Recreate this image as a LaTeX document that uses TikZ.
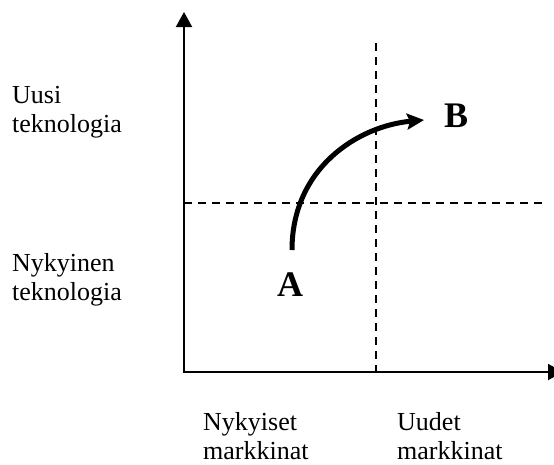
\documentclass[tikz,border=0pt]{standalone}
\usepackage{fontspec}
\setmainfont{Liberation Serif}
\usetikzlibrary{arrows.meta}
\begin{document}
\begin{tikzpicture}[x=1pt,y=-1pt,
  axis/.style={line width=2pt,-{Triangle[length=15pt,width=16pt]}},
  guide/.style={line width=1.5pt,dash pattern=on 7.5pt off 6.5pt},
  move/.style={line width=5pt,-{Stealth[length=17pt,width=16pt,inset=3pt]}},
  lbl/.style={inner sep=0pt,anchor=base west,align=left,font=\fontsize{26}{28.5}\selectfont},
  pt/.style={inner sep=0pt,anchor=base west,font=\fontsize{36}{40}\selectfont\bfseries}]
\useasboundingbox (0,0) rectangle (554,464);
\coordinate (O) at (184,372);
\coordinate (ytop) at (184,12);
\coordinate (xend) at (563,372);
\coordinate (vtop) at (376,43);
\coordinate (vbot) at (376,372);
\coordinate (hl) at (184,203);
\coordinate (hr) at (542,203);
\coordinate (start) at (292,250);
\coordinate (end) at (424,120);
\draw[guide] (vtop) -- (vbot);
\draw[guide] (hl) -- (hr);
\draw[axis] (O) -- (ytop);
\draw[axis] ([xshift=-1pt]O) -- (xend);
\draw[move] (start) .. controls (292,168) and (358,126) .. (end);
\node[lbl] (uusi) at (12,132) {Uusi\\teknologia};
\node[lbl] (nyk) at (12,300) {Nykyinen\\teknologia};
\node[lbl] (nykm) at (203,459) {Nykyiset\\markkinat};
\node[lbl] (uudm) at (397,459) {Uudet\\markkinat};
\node[pt] (A) at (277,296) {A};
\node[pt] (B) at (444,127) {B};
\end{tikzpicture}
\end{document}
